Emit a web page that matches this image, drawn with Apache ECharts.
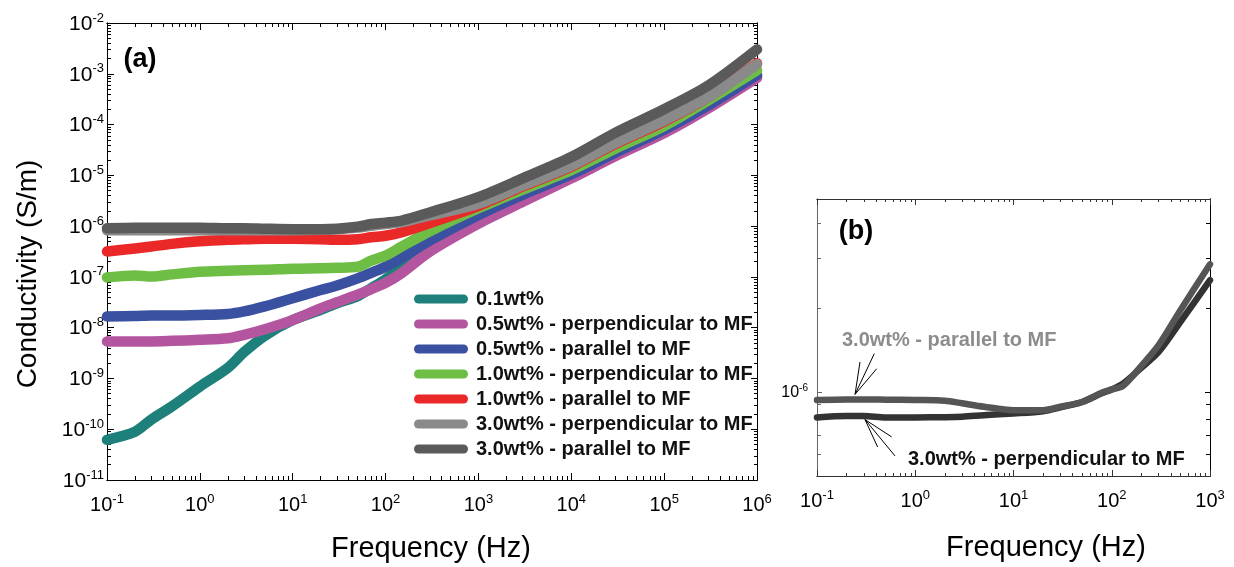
<!DOCTYPE html>
<html><head><meta charset="utf-8">
<script src="https://cdn.jsdelivr.net/npm/echarts@6/dist/echarts.min.js"></script>
<style>html,body{margin:0;padding:0;background:#fff}#c{width:1234px;height:567px}</style>
</head><body><div id="c"></div>
<script>
// ---------- Panel (a) data ----------
const freqA = [0.1,0.2,0.3,0.5,1,2,3,5,10,20,30,50,70,100,150,300,1e3,3e3,1e4,3e4,1e5,3e5,1e6];
const s01     = [6.17e-11,8.9e-11,1.55e-10,2.82e-10,6.92e-10,1.62e-9,3.31e-9,6.92e-9,1.41e-8,2.24e-8,3.02e-8,4.17e-8,6.0e-8,9.0e-8,1.58e-7,3.98e-7,1.41e-6,3.80e-6,1.0e-5,2.69e-5,7.59e-5,2.29e-4,8.91e-4];
const s05perp = [5.37e-9,5.37e-9,5.37e-9,5.50e-9,5.75e-9,6.17e-9,7.24e-9,9.33e-9,1.41e-8,2.40e-8,3.16e-8,4.47e-8,5.75e-8,7.59e-8,1.20e-7,3.16e-7,1.12e-6,3.02e-6,8.71e-6,2.40e-5,6.76e-5,2.09e-4,8.32e-4];
const s05par  = [1.66e-8,1.70e-8,1.74e-8,1.74e-8,1.78e-8,1.86e-8,2.09e-8,2.63e-8,3.80e-8,5.50e-8,6.76e-8,9.33e-8,1.20e-7,1.58e-7,2.40e-7,5.25e-7,1.66e-6,4.17e-6,1.05e-5,2.82e-5,7.94e-5,2.40e-4,9.55e-4];
const s10perp = [9.77e-8,1.07e-7,1.02e-7,1.12e-7,1.26e-7,1.32e-7,1.35e-7,1.38e-7,1.45e-7,1.48e-7,1.51e-7,1.58e-7,2.09e-7,2.63e-7,3.98e-7,7.94e-7,2.24e-6,5.25e-6,1.26e-5,3.39e-5,9.33e-5,3.02e-4,1.17e-3];
const s10par  = [3.16e-7,3.63e-7,3.98e-7,4.47e-7,5.01e-7,5.37e-7,5.50e-7,5.62e-7,5.62e-7,5.50e-7,5.37e-7,5.50e-7,6.03e-7,6.46e-7,7.59e-7,1.15e-6,2.51e-6,6.03e-6,1.48e-5,4.17e-5,1.15e-4,3.47e-4,1.62e-3];
const s30perp = [8.32e-7,8.32e-7,8.32e-7,8.32e-7,8.32e-7,8.32e-7,8.32e-7,8.32e-7,8.32e-7,8.51e-7,8.71e-7,9.33e-7,1.02e-6,1.10e-6,1.20e-6,1.62e-6,2.75e-6,6.31e-6,1.55e-5,4.37e-5,1.20e-4,3.47e-4,1.55e-3];
const s30par  = [9.12e-7,9.33e-7,9.33e-7,9.33e-7,9.33e-7,9.12e-7,9.12e-7,8.91e-7,8.71e-7,8.71e-7,8.91e-7,9.77e-7,1.10e-6,1.17e-6,1.29e-6,1.86e-6,3.72e-6,8.71e-6,2.29e-5,6.92e-5,2.00e-4,5.89e-4,3.02e-3];
const namesA = ['0.1wt%','0.5wt% - perpendicular to MF','0.5wt% - parallel to MF','1.0wt% - perpendicular to MF','1.0wt% - parallel to MF','3.0wt% - perpendicular to MF','3.0wt% - parallel to MF'];
const valuesA = [s01,s05perp,s05par,s10perp,s10par,s30perp,s30par];
const colorsA = ['#1e807a','#b455a0','#3a50a0','#6ebe46','#eb2828','#8a8a8a','#5a5a5a'];

// ---------- Panel (b) data ----------
const freqB = [0.1,0.2,0.3,0.5,1,2,3,5,10,20,30,50,80,100,130,200,300,500,1000];
const parB  = [9.35e-7,9.4e-7,9.4e-7,9.38e-7,9.35e-7,9.3e-7,9.1e-7,8.85e-7,8.6e-7,8.6e-7,8.85e-7,9.2e-7,9.95e-7,1.02e-6,1.05e-6,1.24e-6,1.47e-6,1.96e-6,2.86e-6];
const perpB = [8.1e-7,8.2e-7,8.2e-7,8.1e-7,8.1e-7,8.12e-7,8.15e-7,8.25e-7,8.37e-7,8.53e-7,8.8e-7,9.2e-7,9.9e-7,1.02e-6,1.07e-6,1.22e-6,1.39e-6,1.78e-6,2.51e-6];
// annotation arrows (tip first, then fan end points) in data coordinates
const arrowPar  = [[0.244,9.8e-7],[0.274,1.28e-6],[0.383,1.37e-6],[0.405,1.21e-6]];
const arrowPerp = [[0.308,7.96e-7],[0.414,6.35e-7],[0.575,6.9e-7],[0.622,5.9e-7]];

// ---------- tick values ----------
const xDecA = [0.1,1,10,100,1e3,1e4,1e5,1e6];
const yDecA = [1e-11,1e-10,1e-9,1e-8,1e-7,1e-6,1e-5,1e-4,1e-3,1e-2];
const xDecB = [0.1,1,10,100,1e3];
const yMajB = [1e-6];
const yMinB = [6e-7,7e-7,8e-7,9e-7,2e-6,3e-6,4e-6];

function minors(decs){const out=[];for(let i=0;i<decs.length-1;i++){for(let k=2;k<=9;k++){out.push(k*decs[i]);}}return out;}
const FF = '"Liberation Sans", Arial, Helvetica, sans-serif';
const fmt = v => '{b|10}{s|' + Math.round(Math.log10(v)) + '}';
function richCfg(big, small){
  return {b:{fontSize:big,lineHeight:big+2,verticalAlign:'bottom',fontFamily:FF,color:'#000'},
          s:{fontSize:small,lineHeight:small,verticalAlign:'top',fontFamily:FF,color:'#000'}};
}
function ax(grid,pos,min,max,ticks,len,labels,labelOpt,color){
  return {type:'log',logBase:10,gridIndex:grid,position:pos,min:min,max:max,
    axisLine:{show:true,onZero:false,lineStyle:{color:color||'#000',width:1}},
    axisTick:{show:true,inside:true,length:len,customValues:ticks,lineStyle:{color:color||'#000',width:1}},
    axisLabel: labels ? Object.assign({show:true,customValues:labels,formatter:fmt},labelOpt) : {show:false},
    splitLine:{show:false},minorTick:{show:false},minorSplitLine:{show:false}};
}
const xA = [0.1,1e6], yA=[1e-11,1e-2], xB=[0.1,1e3], yB=[5e-7,4.9e-6];
const xAxes = [
  ax(0,'bottom',xA[0],xA[1],xDecA,7,xDecA,{margin:13,rich:richCfg(20,13)}),
  ax(0,'bottom',xA[0],xA[1],minors(xDecA),4,null),
  ax(0,'top',xA[0],xA[1],xDecA,7,null),
  ax(0,'top',xA[0],xA[1],minors(xDecA),4,null),
  ax(1,'bottom',xB[0],xB[1],xDecB,6,xDecB,{margin:13,rich:richCfg(20,13)},'#333'),
  ax(1,'bottom',xB[0],xB[1],minors(xDecB),3,null,null,'#333'),
  ax(1,'top',xB[0],xB[1],xDecB,6,null,null,'#333'),
  ax(1,'top',xB[0],xB[1],minors(xDecB),3,null,null,'#333')
];
const yAxes = [
  ax(0,'left',yA[0],yA[1],yDecA,7,yDecA,{margin:3,rich:richCfg(21,13)}),
  ax(0,'left',yA[0],yA[1],minors(yDecA),4,null),
  ax(0,'right',yA[0],yA[1],yDecA,6,null),
  ax(0,'right',yA[0],yA[1],minors(yDecA),3,null),
  ax(1,'left',yB[0],yB[1],yMajB,5,yMajB,{margin:9,rich:richCfg(16,10)},'#666'),
  ax(1,'left',yB[0],yB[1],yMinB,4,null,null,'#666'),
  ax(1,'right',yB[0],yB[1],yMajB,5,null),
  ax(1,'right',yB[0],yB[1],yMinB,4,null)
];

const series = namesA.map((n,i)=>({
  type:'line',name:n,xAxisIndex:0,yAxisIndex:0,
  data:freqA.map((f,j)=>[f,valuesA[i][j]]),
  showSymbol:false,symbol:'none',smooth:0.3,color:colorsA[i],
  lineStyle:{width:10.5,color:colorsA[i],cap:'round',join:'round'},z:2+i
}));
function fan(a){return a.slice(1).map(e=>[{coord:a[0]},{coord:e}]);}
series.push({type:'line',name:'b-perp',xAxisIndex:4,yAxisIndex:4,
  data:freqB.map((f,j)=>[f,perpB[j]]),showSymbol:false,symbol:'none',smooth:0.3,color:'#333333',
  lineStyle:{width:6.5,color:'#333333',cap:'round',join:'round'},
  markLine:{silent:true,symbol:['none','none'],label:{show:false},animation:false,
    lineStyle:{type:'solid',color:'#000',width:1},data:fan(arrowPerp)}});
series.push({type:'line',name:'b-par',xAxisIndex:4,yAxisIndex:4,
  data:freqB.map((f,j)=>[f,parB[j]]),showSymbol:false,symbol:'none',smooth:0.3,color:'#555555',
  lineStyle:{width:6.5,color:'#555555',cap:'round',join:'round'},
  markLine:{silent:true,symbol:['none','none'],label:{show:false},animation:false,
    lineStyle:{type:'solid',color:'#000',width:1},data:fan(arrowPar)}});

const chart = echarts.init(document.getElementById('c'),null,{renderer:'canvas'});
chart.setOption({
  animation:false,backgroundColor:'#fff',
  grid:[{left:107,top:23,width:650,height:457},{left:817,top:199,width:393,height:277}],
  xAxis:xAxes,yAxis:yAxes,
  legend:{data:namesA,orient:'vertical',left:409,top:284,itemWidth:54,itemHeight:9,itemGap:5,
    icon:'path://M4.5,0H49.5A4.5,4.5,0,0,1,49.5,9H4.5A4.5,4.5,0,0,1,4.5,0Z',
    textStyle:{fontFamily:FF,fontSize:20,fontWeight:'bold',color:'#111',lineHeight:20,padding:[0,0,0,3]},
    selectedMode:false},
  series:series,
  graphic:[
    {type:'text',x:140,y:60,style:{text:'(a)',font:'bold 27px '+FF,align:'center',verticalAlign:'middle',fill:'#000'}},
    {type:'text',x:856,y:232,style:{text:'(b)',font:'bold 27px '+FF,align:'center',verticalAlign:'middle',fill:'#000'}},
    {type:'text',x:842,y:340,style:{text:'3.0wt% - parallel to MF',font:'bold 20px '+FF,align:'left',verticalAlign:'middle',fill:'#8c8c8c'}},
    {type:'text',x:908,y:459,style:{text:'3.0wt% - perpendicular to MF',font:'bold 20px '+FF,align:'left',verticalAlign:'middle',fill:'#111'}},
    {type:'text',x:431,y:549,style:{text:'Frequency (Hz)',font:'29px '+FF,align:'center',verticalAlign:'middle',fill:'#000'}},
    {type:'text',x:1046,y:548,style:{text:'Frequency (Hz)',font:'29px '+FF,align:'center',verticalAlign:'middle',fill:'#000'}},
    {type:'text',x:28,y:274,rotation:Math.PI/2,style:{text:'Conductivity (S/m)',font:'28px '+FF,align:'center',verticalAlign:'middle',fill:'#000'}}
  ]
});
</script></body></html>
